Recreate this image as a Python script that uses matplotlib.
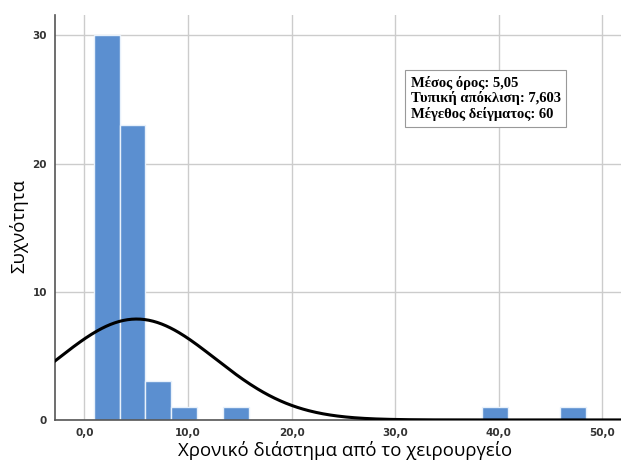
import numpy as np
import matplotlib
matplotlib.use("Agg")
import matplotlib.pyplot as plt

# histogram bins (left edge, width 2.5) and counts
bin_left = [0.9, 3.4, 5.9, 8.4, 13.4, 38.4, 45.9]
counts = [30, 23, 3, 1, 1, 1, 1]
bin_width = 2.5

mean = 5.05
std = 7.603
n = 60

xticks = [0, 10, 20, 30, 40, 50]
xticklabels = ["0,0", "10,0", "20,0", "30,0", "40,0", "50,0"]
yticks = [0, 10, 20, 30]

fig = plt.figure(figsize=(6.21, 4.63), dpi=100)
ax = fig.add_axes([0.089, 0.093, 0.911, 0.875])

ax.bar(bin_left, counts, width=bin_width, align="edge",
       color="#5b8fd0", edgecolor="#e8f1fb", linewidth=1.0, zorder=2)

# fitted normal curve scaled to counts
xs = np.linspace(-3, 52, 400)
pdf = n * bin_width / (std * np.sqrt(2 * np.pi)) * np.exp(-0.5 * ((xs - mean) / std) ** 2)
ax.plot(xs, pdf, color="black", linewidth=2.2, zorder=3)

ax.set_xlim(-2.8, 51.8)
ax.set_ylim(0, 31.6)
ax.set_xticks(xticks)
ax.set_xticklabels(xticklabels)
ax.set_yticks(yticks)
ax.tick_params(length=0, labelsize=7.5, colors="#333333", pad=6)
for lab in ax.get_xticklabels() + ax.get_yticklabels():
    lab.set_fontweight("bold")

ax.grid(True, color="#cccccc", linewidth=1.0, zorder=0)
ax.set_axisbelow(True)
for side in ["top", "right"]:
    ax.spines[side].set_visible(False)
for side in ["left", "bottom"]:
    ax.spines[side].set_color("#555555")
    ax.spines[side].set_linewidth(1.2)

ax.set_xlabel("Χρονικό διάστημα από το χειρουργείο", fontsize=13.4,
              family="Open Sans", labelpad=2, x=0.512)
ax.set_ylabel("Συχνότητα", fontsize=13.4, family="Open Sans", labelpad=3,
              y=0.479)

stats = "Μέσος όρος: 5,05\nΤυπική απόκλιση: 7,603\nΜέγεθος δείγματος: 60"
ax.text(0.628, 0.85, stats, transform=ax.transAxes, ha="left", va="top",
        fontsize=10.5, fontweight="bold", family="Liberation Serif",
        linespacing=1.15,
        bbox=dict(boxstyle="square,pad=0.4", facecolor="white",
                  edgecolor="#999999", linewidth=0.8), zorder=5)

fig.savefig("out.png", dpi=100)
